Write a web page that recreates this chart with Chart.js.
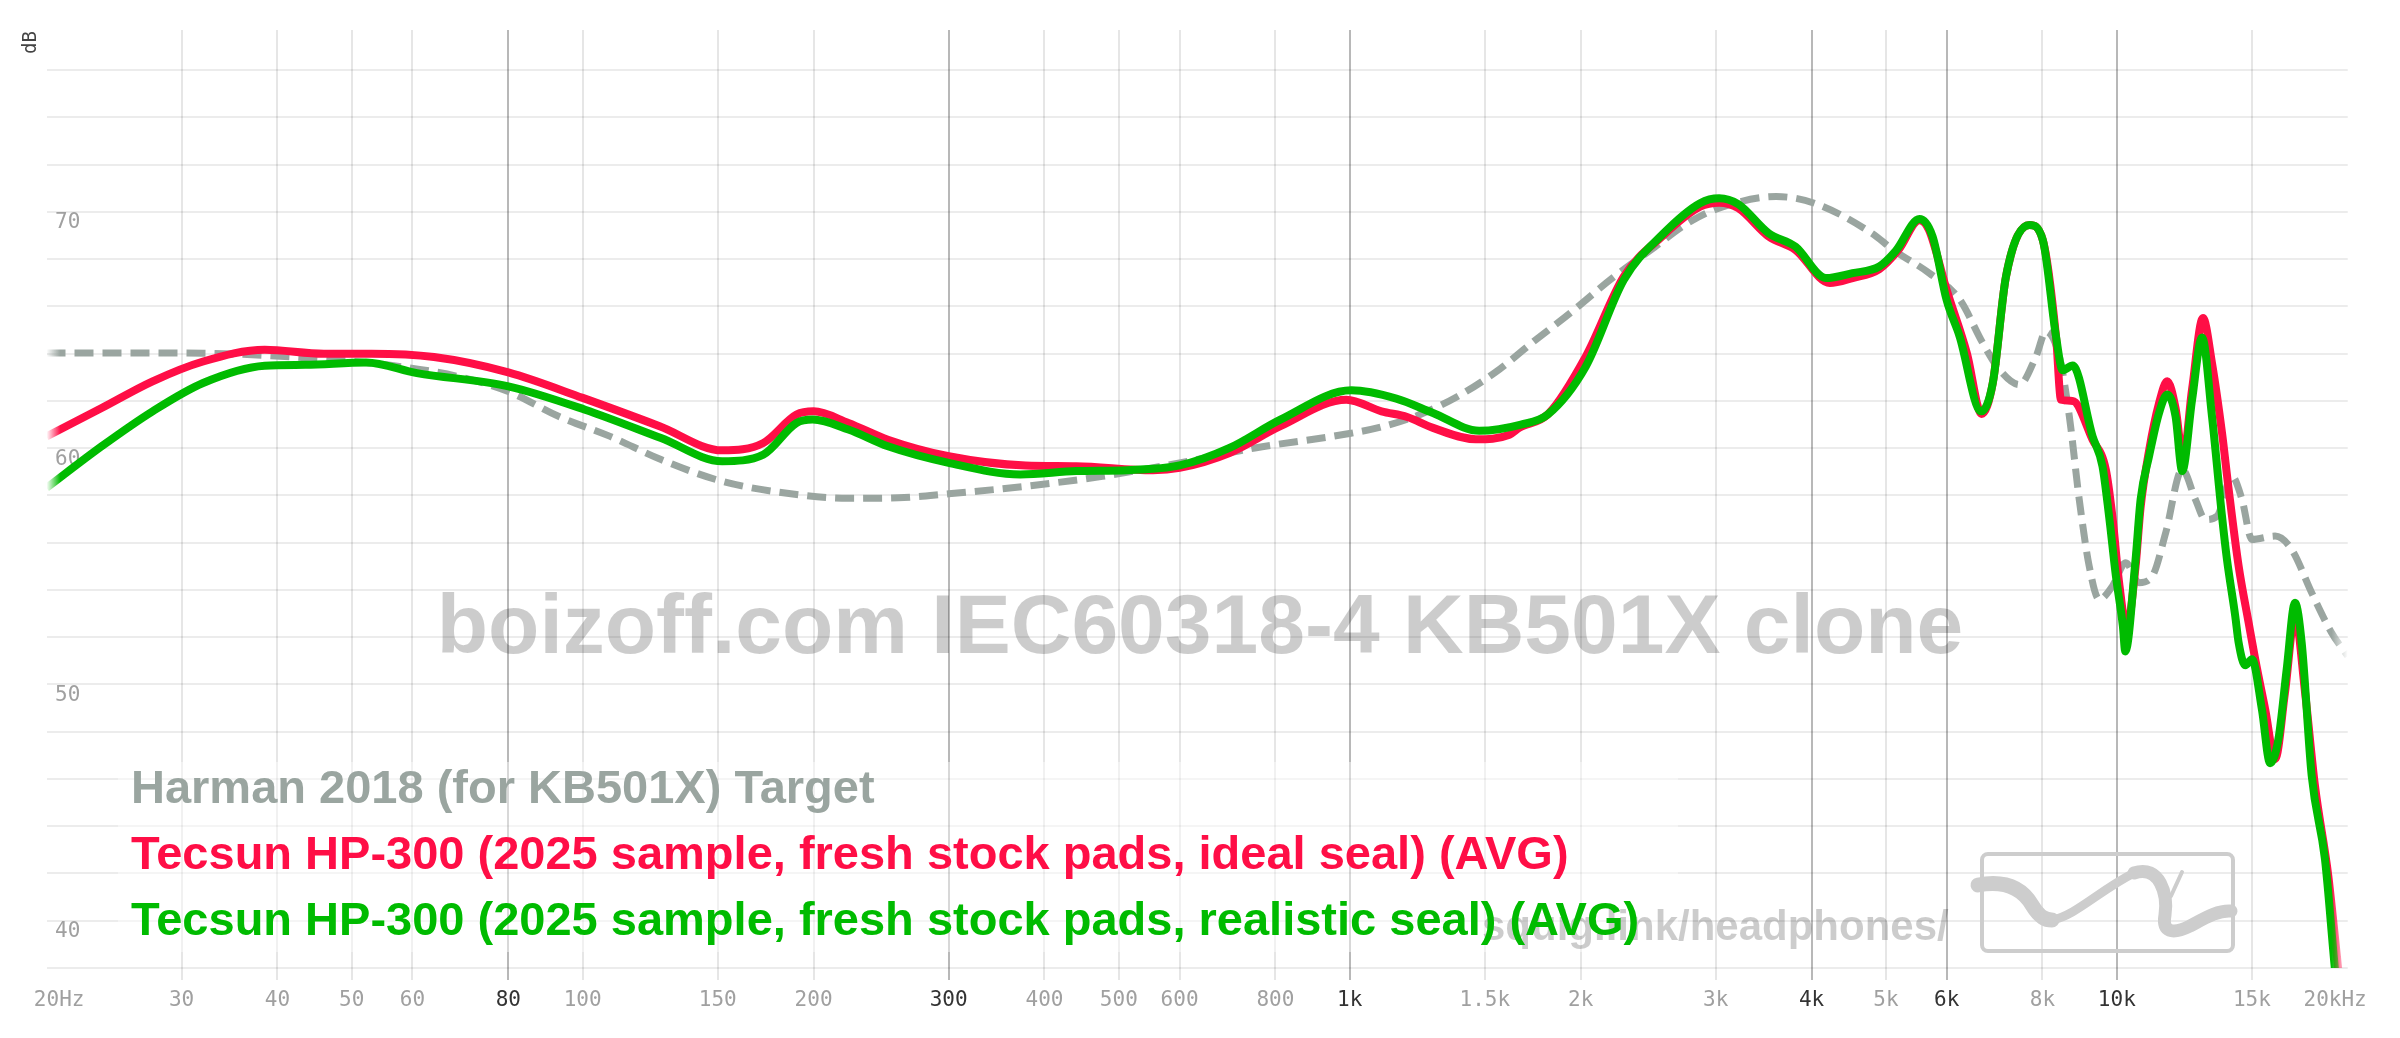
<!DOCTYPE html>
<html>
<head>
<meta charset="utf-8">
<script src="https://cdn.jsdelivr.net/npm/chart.js@4.4.0/dist/chart.umd.min.js"></script>
<style>
  html, body { margin: 0; padding: 0; background: #fff; overflow: hidden; }
  #graph { display: block; }
</style>
</head>
<body>
<canvas id="graph" width="2400" height="1038"></canvas>
<script>
// axis ticks
const tickFreqs = [20, 30, 40, 50, 60, 80, 100, 150, 200, 300, 400, 500, 600, 800,
  1000, 1500, 2000, 3000, 4000, 5000, 6000, 8000, 10000, 15000, 20000];
const tickLabels = ['  20Hz', '30', '40', '50', '60', '80', '100', '150', '200', '300', '400', '500', '600', '800',
  '1k', '1.5k', '2k', '3k', '4k', '5k', '6k', '8k', '10k', '15k', '20kHz  '];
const darkTicks = [80, 300, 1000, 4000, 6000, 10000];
const dbLabels = [40, 50, 60, 70];

// Harman 2018 (for KB501X) Target
const targetFreq = [20, 26, 32, 38.5, 46, 55.5, 68.7, 80, 93, 108.6, 126.5, 152, 190, 222, 258, 300, 378, 476,
  600, 752, 990, 1100, 1229, 1384, 1546, 1750, 1943, 2200, 2495, 2750, 2996, 3598, 4034, 4792, 5109, 5700,
  6238, 6686, 7031, 7464, 7846, 8085, 8415, 8671, 8933, 9204, 9483, 9867, 10271, 10689, 11126, 11580, 12168,
  12660, 13044, 13508, 14128, 14560, 15000, 16082, 16906, 17948, 19054, 20000];
const targetDb = [64.03, 64.03, 64.02, 63.93, 63.77, 63.53, 63.04, 62.4, 61.35, 60.5, 59.52, 58.6, 58.04, 57.88, 57.9, 58.07, 58.39, 58.81,
  59.38, 60.01, 60.6, 60.9, 61.4, 62.2, 63.2, 64.6, 65.75, 67.2, 68.5, 69.5, 70.1, 70.65, 70.37, 69.1, 68.4, 67.4,
  66.3, 64.45, 63.32, 62.69, 63.88, 64.94, 63.88, 61.35, 57.83, 55.01, 53.6, 54.16, 55.15, 54.31, 54.59, 56.42, 59.1,
  57.83, 56.98, 57.12, 58.81, 57.83, 56.14, 56.28, 55.71, 53.88, 52.19, 51.2];

// Tecsun HP-300 ideal seal
const idealFreq = [20, 23.6, 27.5, 32, 38.5, 46, 53, 64, 80, 100, 126, 152, 172, 190, 200, 222, 250, 300, 378, 440,
  554, 600, 697, 812, 990, 1100, 1188, 1284, 1460, 1615, 1663, 1815, 2031, 2277, 2553, 2862, 3031, 3209, 3516, 3812,
  4224, 4523, 4902, 5191, 5530, 5689, 6000, 6375, 6665, 6891, 7170, 7693, 8006, 8331, 8457, 8758, 9298, 9675, 9867,
  10069, 10300, 10579, 10740, 11016, 11350, 11634, 11927, 12200, 12534, 12950, 13306, 13712, 13990, 14414, 14852,
  15150, 15609, 16082, 16567, 17072, 17595, 18126, 18865, 19437, 19800];
const idealDb = [60.5, 61.7, 62.83, 63.67, 64.17, 64.0, 64.0, 63.86, 63.21, 62.13, 60.93, 59.91, 60.22, 61.42, 61.56, 61.07, 60.36, 59.66, 59.27, 59.24,
  59.07, 59.17, 59.8, 60.93, 62.05, 61.56, 61.32, 60.86, 60.38, 60.57, 60.86, 61.45, 63.88, 67.27, 68.96, 70.22, 70.39, 70.16, 68.96, 68.39,
  66.99, 67.2, 67.58, 68.39, 69.65, 69.24, 66.7, 64.03, 61.45, 62.76, 67.27, 69.45, 68.82, 64.73, 62.05, 62.0, 60.36, 59.1, 57.12,
  54.31, 52.4, 55.0, 57.5, 59.9, 61.9, 62.83, 61.7, 59.6, 62.5, 65.51, 63.6, 60.65, 58.25, 55.01, 52.62,
  51.07, 48.95, 46.84, 49.66, 52.89, 49.66, 45.71, 41.91, 37.96, 35.5];

// Tecsun HP-300 realistic seal
const realFreq = [20, 23.6, 27.5, 32, 38.5, 43.5, 52.2, 60.8, 80, 100.7, 126.5, 152, 172, 190, 199.4, 222, 250, 300, 372, 440,
  513, 600, 697, 812, 1005, 1150, 1284, 1475, 1672, 1811, 2031, 2277, 2553, 2862, 3031, 3209, 3516, 3812, 4176, 4523,
  4902, 5150, 5530, 5752, 5998, 6238, 6654, 6891, 7170, 7693, 8006, 8331, 8500, 8758, 9298, 9578, 9770, 9972, 10183,
  10257, 10579, 10740, 11016, 11350, 11634, 11927, 12168, 12534, 12915, 13306, 13712, 13918, 14269, 14414, 14703,
  15000, 15456, 15842, 16241, 16651, 17072, 17417, 17948, 18677, 19245, 19600];
const realDb = [58.32, 60.08, 61.56, 62.76, 63.49, 63.53, 63.63, 63.18, 62.62, 61.63, 60.43, 59.45, 59.73, 61.07, 61.21, 60.79, 60.08, 59.38, 58.89, 59.03,
  59.07, 59.27, 60.01, 61.21, 62.45, 62.1, 61.49, 60.74, 61.0, 61.42, 63.46, 67.13, 69.03, 70.37, 70.58, 70.33, 69.1, 68.53, 67.2, 67.41,
  67.69, 68.35, 69.7, 68.96, 66.28, 64.73, 61.56, 62.76, 67.27, 69.45, 68.82, 64.73, 63.3, 63.5, 60.5, 59.24, 57.12, 54.59, 52.47,
  51.4, 55.29, 57.83, 59.66, 61.49, 62.27, 61.35, 59.03, 62.05, 64.69, 61.35, 57.12, 55.29, 52.89, 51.77, 50.81,
  51.07, 48.95, 46.67, 47.68, 50.64, 53.46, 51.77, 46.14, 42.61, 37.96, 35.5];

const series = [
  { label: 'Harman 2018 (for KB501X) Target', freq: targetFreq, db: targetDb, rgb: [154, 165, 160], width: 7, dash: [19, 9], order: 3 },
  { label: 'Tecsun HP-300 (2025 sample, fresh stock pads, ideal seal) (AVG)', freq: idealFreq, db: idealDb, rgb: [255, 14, 70], width: 8, dash: [], order: 2 },
  { label: 'Tecsun HP-300 (2025 sample, fresh stock pads, realistic seal) (AVG)', freq: realFreq, db: realDb, rgb: [0, 187, 0], width: 8, dash: [], order: 1 }
];

const rgba = (c, a) => 'rgba(' + c[0] + ',' + c[1] + ',' + c[2] + ',' + a + ')';

// lines fade out at the left/right edges of the plot
function edgeFade(c) {
  return function(ctx) {
    const area = ctx.chart.chartArea;
    if (!area) return rgba(c, 1);
    const g = ctx.chart.ctx.createLinearGradient(area.left, 0, area.right, 0);
    g.addColorStop(0, rgba(c, 0));
    g.addColorStop(0.006, rgba(c, 1));
    g.addColorStop(0.993, rgba(c, 1));
    g.addColorStop(1, rgba(c, 0));
    return g;
  };
}

const datasets = series.map(s => ({
  label: s.label,
  data: s.freq.map((f, i) => ({ x: f, y: s.db[i] })),
  borderColor: edgeFade(s.rgb),
  borderWidth: s.width,
  borderDash: s.dash,
  borderCapStyle: 'butt',
  pointRadius: 0,
  fill: false,
  cubicInterpolationMode: 'monotone',
  order: s.order
}));

// watermarks, logo, dB label and the legend
const decor = {
  id: 'decor',
  beforeDatasetsDraw(chart) {
    const ctx = chart.ctx;
    ctx.save();

    // legend backdrop
    ctx.fillStyle = 'rgba(255,255,255,0.45)';
    ctx.fillRect(118, 762, 1560, 190);

    ctx.fillStyle = 'rgba(0,0,0,0.2)';
    ctx.textBaseline = 'alphabetic';
    ctx.textAlign = 'center';
    ctx.font = 'bold 84px "Liberation Sans", Arial, sans-serif';
    ctx.fillText('boizoff.com IEC60318-4 KB501X clone', 1200, 653);

    ctx.textAlign = 'left';
    ctx.font = 'bold 42px "Liberation Sans", Arial, sans-serif';
    ctx.fillText('squig.link/headphones/', 1482, 940);

    // logo
    ctx.strokeStyle = '#cdcdcd';
    ctx.lineWidth = 4;
    ctx.beginPath();
    ctx.roundRect(1982, 854, 251, 97, 6);
    ctx.stroke();
    ctx.lineCap = 'round';
    ctx.lineJoin = 'round';
    ctx.lineWidth = 15;
    ctx.beginPath();
    ctx.moveTo(1978, 885);
    ctx.bezierCurveTo(2005, 880, 2022, 888, 2032, 905);
    ctx.bezierCurveTo(2040, 918, 2046, 920, 2052, 920);
    ctx.stroke();
    ctx.lineWidth = 9;
    ctx.beginPath();
    ctx.moveTo(2052, 920);
    ctx.bezierCurveTo(2075, 916, 2100, 890, 2134, 873);
    ctx.stroke();
    ctx.lineWidth = 13;
    ctx.beginPath();
    ctx.moveTo(2134, 873);
    ctx.bezierCurveTo(2160, 864, 2168, 895, 2165, 915);
    ctx.bezierCurveTo(2162, 932, 2172, 935, 2190, 926);
    ctx.bezierCurveTo(2205, 918, 2218, 910, 2231, 911);
    ctx.stroke();
    ctx.lineWidth = 4;
    ctx.beginPath();
    ctx.moveTo(2182, 872);
    ctx.lineTo(2171, 896);
    ctx.stroke();

    // legend text
    ctx.font = 'bold 47px "Liberation Sans", Arial, sans-serif';
    series.forEach((s, i) => {
      ctx.fillStyle = rgba(s.rgb, 1);
      ctx.fillText(s.label, 131, 803 + i * 66);
    });

    // y axis unit
    ctx.translate(31, 31);
    ctx.rotate(-Math.PI / 2);
    ctx.fillStyle = '#444';
    ctx.font = '19px "DejaVu Sans Mono", monospace';
    ctx.textAlign = 'right';
    ctx.textBaseline = 'middle';
    ctx.fillText('dB', 0, 0);
    ctx.restore();
  }
};

const monoFont = { family: '"DejaVu Sans Mono", monospace', size: 21 };

new Chart(document.getElementById('graph'), {
  type: 'line',
  data: { datasets: datasets },
  options: {
    responsive: false,
    devicePixelRatio: 1,
    animation: false,
    events: [],
    layout: { padding: { left: 46.5, right: 44, top: 30, bottom: 0 } },
    plugins: { legend: { display: false }, tooltip: { enabled: false } },
    scales: {
      x: {
        type: 'logarithmic',
        min: 20,
        max: 20000,
        afterBuildTicks: s => { s.ticks = tickFreqs.map(v => ({ value: v })); },
        afterFit: s => { s.height = 70; },
        border: { display: false },
        grid: {
          lineWidth: 2,
          tickLength: 12,
          color: c => {
            const v = c.tick ? c.tick.value : 0;
            if (v === 20 || v === 20000) return 'rgba(0,0,0,0)';
            return darkTicks.includes(v) ? '#b8b8b8' : '#e6e6e6';
          }
        },
        ticks: {
          autoSkip: false,
          maxRotation: 0,
          padding: 8,
          font: monoFont,
          color: c => darkTicks.includes(c.tick.value) ? '#333' : '#a0a0a0',
          callback: (v, i) => tickLabels[i]
        }
      },
      y: {
        type: 'linear',
        min: 38,
        max: 77.7,
        afterBuildTicks: s => {
          const t = [];
          for (let v = 38; v <= 76; v++) t.push({ value: v });
          s.ticks = t;
        },
        afterFit: s => { s.width = 0; },
        border: { display: false },
        grid: { lineWidth: 2, drawTicks: false, color: 'rgba(0,0,0,0.075)' },
        ticks: {
          mirror: true,
          padding: 8.5,
          labelOffset: 11,
          font: monoFont,
          color: '#a0a0a0',
          callback: v => dbLabels.includes(v) ? String(v) : ''
        }
      }
    }
  },
  plugins: [decor]
});
</script>
</body>
</html>
